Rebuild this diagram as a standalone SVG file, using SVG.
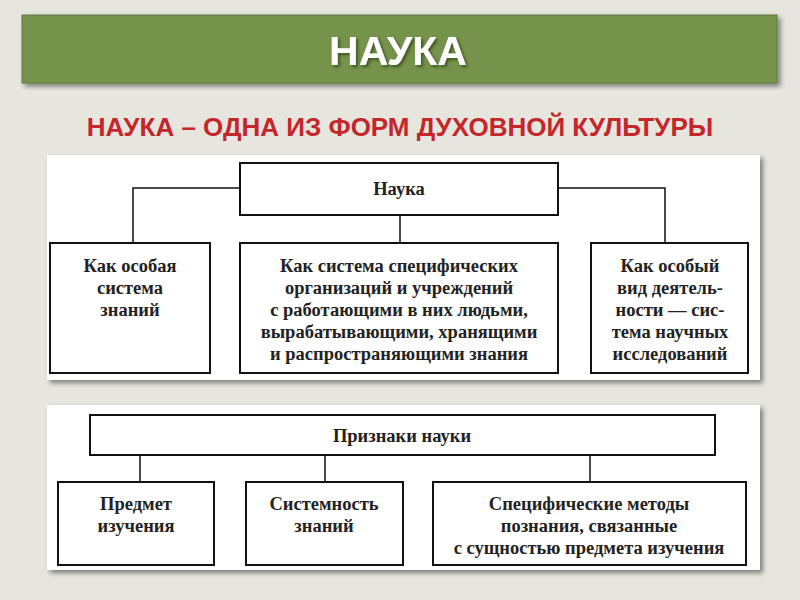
<svg xmlns="http://www.w3.org/2000/svg" width="800" height="600" viewBox="0 0 800 600">
<defs>
<filter id="sh" x="-5%" y="-5%" width="110%" height="115%"><feDropShadow dx="3" dy="3" stdDeviation="2.5" flood-opacity="0.45"/></filter>
<filter id="tsh"><feDropShadow dx="2" dy="2" stdDeviation="1.5" flood-color="#2a3a15" flood-opacity="0.7"/></filter>
<style>
.box{fill:#fff;stroke:#111;stroke-width:2}
.t{font-family:"Liberation Serif",serif;font-size:18.5px;font-weight:bold;fill:#222;text-anchor:middle}
.ln{stroke:#111;stroke-width:1.5;fill:none}
</style>
</defs>
<rect width="800" height="600" fill="#e6e6df"/>
<g id="banner">
<rect x="22" y="15" width="755" height="68" fill="#76934b" stroke="#5f7a3a" filter="url(#sh)"/>
<text x="398" y="65" font-family="Liberation Sans,sans-serif" font-size="41" font-weight="bold" fill="#fff" text-anchor="middle" filter="url(#tsh)">НАУКА</text>
</g>
<text id="subtitle" x="400" y="136" font-family="Liberation Sans,sans-serif" font-size="26" font-weight="bold" fill="#c4262b" text-anchor="middle">НАУКА – ОДНА ИЗ ФОРМ ДУХОВНОЙ КУЛЬТУРЫ</text>
<rect x="47" y="155" width="713" height="225" fill="#fff" filter="url(#sh)"/>
<rect x="47" y="405" width="713" height="165" fill="#fff" filter="url(#sh)"/>
<g id="connectors">
<path class="ln" d="M240 188H133V243M558 188H665V243M400 215V243"/>
<path class="ln" d="M140 455V482M325 455V482M590 455V482"/>
</g>
<g id="nauka"><rect class="box" x="240" y="163" width="318" height="52"/><text class="t" x="399" y="195">Наука</text></g>
<g id="n1"><rect class="box" x="50" y="243" width="160" height="130"/><text class="t" x="130" y="272">Как особая</text><text class="t" x="130" y="294">система</text><text class="t" x="130" y="316">знаний</text></g>
<g id="n2"><rect class="box" x="240" y="243" width="318" height="130"/>
<text class="t" x="399" y="272">Как система специфических</text><text class="t" x="399" y="294">организаций и учреждений</text><text class="t" x="399" y="316">с работающими в них людьми,</text><text class="t" x="399" y="338">вырабатывающими, хранящими</text><text class="t" x="399" y="360">и распространяющими знания</text></g>
<g id="n3"><rect class="box" x="591" y="243" width="157" height="130"/>
<text class="t" x="670" y="272">Как особый</text><text class="t" x="670" y="294">вид деятель-</text><text class="t" x="670" y="316">ности — сис-</text><text class="t" x="670" y="338">тема научных</text><text class="t" x="670" y="360">исследований</text></g>
<g id="priznaki"><rect class="box" x="90" y="415" width="625" height="40"/><text class="t" x="402" y="442">Признаки науки</text></g>
<g id="p1"><rect class="box" x="58" y="482" width="156" height="83"/><text class="t" x="136" y="510">Предмет</text><text class="t" x="136" y="532">изучения</text></g>
<g id="p2"><rect class="box" x="246" y="482" width="157" height="83"/><text class="t" x="324" y="510">Системность</text><text class="t" x="324" y="532">знаний</text></g>
<g id="p3"><rect class="box" x="433" y="482" width="313" height="83"/><text class="t" x="589" y="510">Специфические методы</text><text class="t" x="589" y="532">познания, связанные</text><text class="t" x="589" y="554">с сущностью предмета изучения</text></g>
</svg>
